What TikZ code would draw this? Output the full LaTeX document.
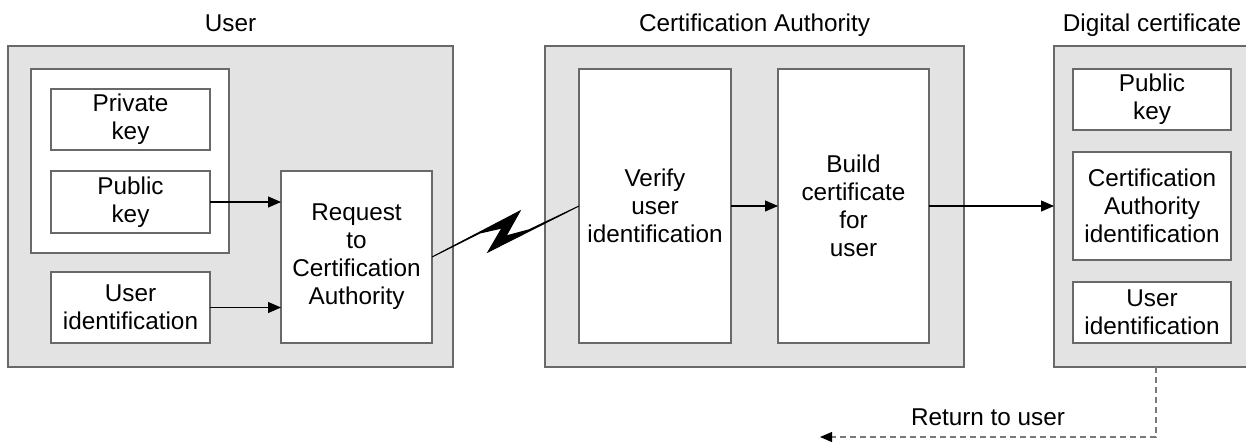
\documentclass[tikz,border=0pt]{standalone}
\usepackage{fontspec}
\setmainfont{Liberation Sans}
\usetikzlibrary{arrows.meta}
\definecolor{panelgray}{RGB}{227,227,227}
\definecolor{edgegray}{RGB}{105,105,105}
\definecolor{dashgray}{RGB}{120,120,120}
\tikzset{
  panel/.style={draw=edgegray, fill=panelgray, line width=1.3pt, inner sep=0pt, outer sep=0pt},
  box/.style={draw=edgegray, fill=white, line width=1.2pt, align=center, inner sep=0pt, outer sep=0pt,
    font=\fontsize{24.3}{28}\selectfont},
  ttl/.style={anchor=base, inner sep=0pt, font=\fontsize{24.3}{28}\selectfont},
  arr/.style={-{Triangle[length=13pt,width=11pt]}, line width=1.1pt},
  retline/.style={draw=dashgray, line width=1.1pt, dash pattern=on 6pt off 4pt,
    -{Triangle[length=12pt,width=10pt,color=black]}},
}
\begin{document}
\begin{tikzpicture}[x=1pt,y=-1pt]
\useasboundingbox (0,0) rectangle (1246,444);
% User panel
\node[panel, minimum width=445pt, minimum height=321pt] (user) at (230.5,206.5) {};
\node[box, minimum width=198pt, minimum height=184pt] (grp) at (130,161) {};
\node[box, minimum width=159pt, minimum height=61pt] (priv) at (130.5,119.5) {Private\\key};
\node[box, minimum width=159pt, minimum height=62pt] (pub) at (130.5,202) {Public\\key};
\node[box, minimum width=159pt, minimum height=71pt] (uid) at (130.5,307.5) {User\\identification};
\node[box, minimum width=151pt, minimum height=172pt] (req) at (356.5,257) {Request\\to\\Certification\\Authority};
% CA panel
\node[panel, minimum width=419pt, minimum height=321pt] (ca) at (754.5,206.5) {};
\node[box, minimum width=152pt, minimum height=274pt] (ver) at (655,206) {Verify\\user\\identification};
\node[box, minimum width=151pt, minimum height=274pt] (bld) at (853.5,206) {Build\\certificate\\for\\user};
% Digital certificate panel
\node[fill=panelgray, inner sep=0pt, outer sep=0pt, minimum width=196pt, minimum height=321pt] (dc) at (1152,206.5) {};
\draw[draw=edgegray, line width=1.3pt] (dc.north east) -- (dc.north west) -- (dc.south west) -- (dc.south east);
\node[box, minimum width=158pt, minimum height=61pt] (dpub) at (1152,99.5) {Public\\key};
\node[box, minimum width=158pt, minimum height=108pt] (dca) at (1152,206) {Certification\\Authority\\identification};
\node[box, minimum width=158pt, minimum height=61pt] (duid) at (1152,312.5) {User\\identification};
% Titles
\node[ttl] (tuser) at (230.5,32) {User};
\node[ttl] (tca) at (754.5,32) {Certification Authority};
\node[ttl] (tdc) at (1152,32) {Digital certificate};
% Arrows
\draw[arr] (pub.east) -- (req.west |- pub.east);
\draw[arr] (uid.east) -- (req.west |- uid.east);
\draw[arr] (ver.east) -- (bld.west |- ver.east);
\draw[arr] (bld.east) -- (dc.west |- bld.east);
% Lightning link
\fill[black] (req.east) -- (520,211) -- (506,236) -- (529,229.8) -- (ver.west) -- (488,252) -- (502,228) -- (480,233) -- cycle;
\draw[black, line width=1pt, line join=miter] (req.east) -- (520,211) -- (506,236) -- (529,229.8) -- (ver.west) -- (488,252) -- (502,228) -- (480,233) -- cycle;
% Return to user
\coordinate (rs) at (1156,367);
\coordinate (re) at (820,437);
\draw[retline] (rs) |- (re);
\node[ttl] (tret) at (988,425) {Return to user};
\end{tikzpicture}
\end{document}
